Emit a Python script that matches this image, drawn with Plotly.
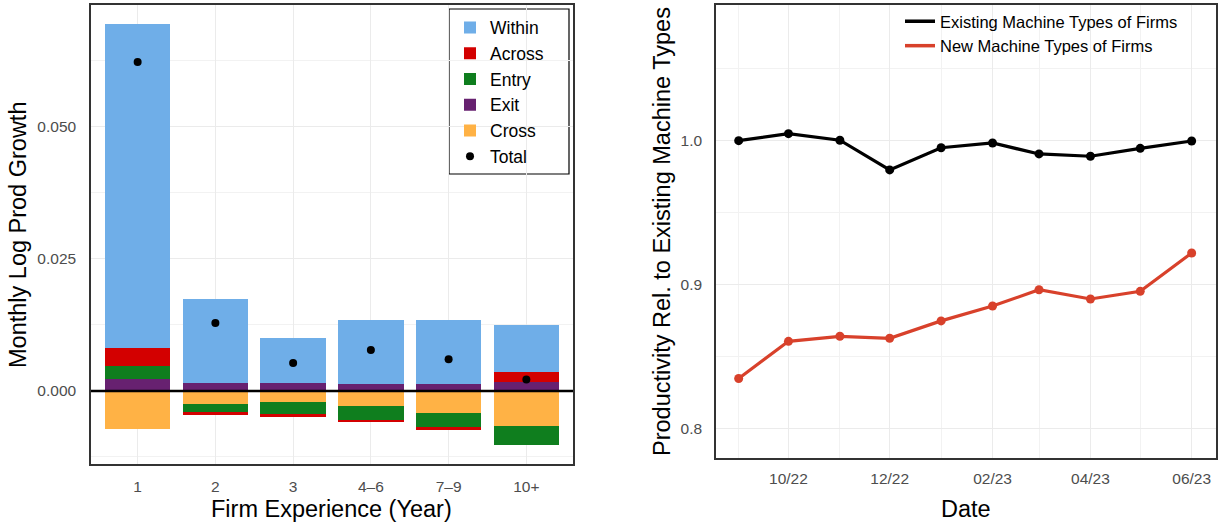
import plotly.graph_objects as go

# ---------------- Left panel data ----------------
experience = ["1", "2", "3", "4–6", "7–9", "10+"]
within = [0.0614, 0.01578, 0.00852, 0.01225, 0.01206, 0.0089]
across = [0.00335, -0.00063, -0.00063, -0.00032, -0.00063, 0.00184]
entry = [0.00252, -0.0016, -0.00214, -0.00265, -0.00271, -0.0036]
exit_ = [0.00222, 0.0016, 0.0016, 0.00127, 0.0014, 0.0017]
cross = [-0.00725, -0.0024, -0.00214, -0.0029, -0.0041, -0.00669]
total = [0.0623, 0.01288, 0.0053, 0.00776, 0.0060, 0.00216]
y1_tickvals = [0.0, 0.025, 0.05]
y1_ticktext = ["0.000", "0.025", "0.050"]

# ---------------- Right panel data ----------------
dates = ["2022-09-01", "2022-10-01", "2022-11-01", "2022-12-01", "2023-01-01",
         "2023-02-01", "2023-03-01", "2023-04-01", "2023-05-01", "2023-06-01"]
existing = [1.000, 1.0049, 1.0003, 0.9797, 0.9951, 0.9984, 0.9908, 0.9892, 0.9947, 0.9998]
new = [0.8349, 0.8607, 0.8642, 0.8628, 0.8749, 0.8852, 0.8965, 0.8901, 0.8954, 0.9220]
date_tickvals = ["2022-10-01", "2022-12-01", "2023-02-01", "2023-04-01", "2023-06-01"]
date_ticktext = ["10/22", "12/22", "02/23", "04/23", "06/23"]
date_minor = ["2022-09-01", "2022-11-01", "2023-01-01", "2023-03-01", "2023-05-01"]
y2_tickvals = [0.8, 0.9, 1.0]
y2_ticktext = ["0.8", "0.9", "1.0"]

FONT = "Liberation Sans, Arial, Helvetica, sans-serif"
GRID = "#EBEBEB"
MINOR = "#F2F2F2"
TICKC = "#4D4D4D"
TICKSIZE = 15.5
TITLESIZE = 23.5

fig = go.Figure()

components = [
    ("Cross", cross, "#FFB245", 5),
    ("Exit", exit_, "#672170", 4),
    ("Entry", entry, "#0F7E1E", 3),
    ("Across", across, "#D30000", 2),
    ("Within", within, "#6FAEE8", 1),
]
for name, vals, col, rank in components:
    fig.add_trace(go.Bar(
        x=experience, y=vals, name=name, marker=dict(color=col, line=dict(width=0)),
        width=0.84, legendrank=rank, legend="legend", xaxis="x", yaxis="y"))

fig.add_trace(go.Scatter(
    x=experience, y=total, mode="markers", name="Total",
    marker=dict(color="black", size=8), legendrank=6, legend="legend",
    xaxis="x", yaxis="y"))

series = [("Existing Machine Types of Firms", existing, "black"),
          ("New Machine Types of Firms", new, "#D8412B")]
for name, vals, col in series:
    fig.add_trace(go.Scatter(
        x=dates, y=vals, mode="lines+markers", name=name, showlegend=False,
        line=dict(color=col, width=3.2), marker=dict(color=col, size=9),
        xaxis="x2", yaxis="y2"))
    # legend-only entry (line key, as in the reference)
    fig.add_trace(go.Scatter(
        x=[None], y=[None], mode="lines", name=name,
        line=dict(color=col, width=3.5), xaxis="x2", yaxis="y2", legend="legend2"))

H = 527.0
W = 1225.0

axis_common = dict(
    showgrid=True, gridcolor=GRID, gridwidth=1,
    showline=True, mirror=True, linecolor="#333333", linewidth=1.5,
    ticks="outside", tickcolor="rgba(0,0,0,0)",
    tickfont=dict(size=TICKSIZE, color=TICKC, family=FONT), zeroline=False)

fig.update_layout(
    width=1225, height=527,
    margin=dict(l=0, r=0, t=0, b=0),
    paper_bgcolor="white", plot_bgcolor="white",
    barmode="relative", bargap=0,
    font=dict(family=FONT, color="black"),
    xaxis=dict(
        domain=[91 / W, 573 / W], range=[-0.6, 5.6], type="category",
        ticklen=8, anchor="y", **axis_common),
    yaxis=dict(
        domain=[1 - 464 / H, 1 - 5 / H], range=[-0.01383, 0.0731],
        tickvals=y1_tickvals, ticktext=y1_ticktext, ticklen=10,
        minor=dict(tickvals=[-0.0125, 0.0125, 0.0375, 0.0625], showgrid=True,
                   gridcolor=MINOR, gridwidth=1),
        anchor="x", **axis_common),
    xaxis2=dict(
        domain=[716 / W, 1216 / W], type="date",
        range=["2022-08-18 08:00", "2023-06-15 16:00"],
        tickvals=date_tickvals, ticktext=date_ticktext, ticklen=6,
        minor=dict(tickvals=date_minor, showgrid=True, gridcolor=MINOR, gridwidth=1),
        anchor="y2", **axis_common),
    yaxis2=dict(
        domain=[1 - 458 / H, 1 - 5 / H], range=[0.7797, 1.0942],
        tickvals=y2_tickvals, ticktext=y2_ticktext, ticklen=9,
        minor=dict(tickvals=[0.85, 0.95, 1.05], showgrid=True, gridcolor=MINOR, gridwidth=1),
        anchor="x2", **axis_common),
    legend=dict(
        x=450 / W, xanchor="left", y=1 - 9.5 / H, yanchor="top",
        bgcolor="rgba(0,0,0,0)", borderwidth=0,
        font=dict(size=17.5, family=FONT, color="black"),
        traceorder="normal", itemwidth=30),
    legend2=dict(
        x=900 / W, xanchor="left", y=1 - 4 / H, yanchor="top",
        bgcolor="rgba(0,0,0,0)", borderwidth=0,
        font=dict(size=16.5, family=FONT, color="black"),
        traceorder="normal", itemwidth=30),
    showlegend=True,
)

# Legend frame (left panel)
fig.add_shape(type="rect", xref="paper", yref="paper",
              x0=449 / W, x1=569 / W, y0=1 - 174 / H, y1=1 - 9 / H,
              line=dict(color="black", width=1.2), fillcolor="white", layer="below")

# Zero reference line on left panel
fig.add_shape(type="line", xref="x domain", yref="y", x0=0, x1=1, y0=0, y1=0,
              line=dict(color="black", width=2.3), layer="above")

# Axis titles
fig.add_annotation(text="Firm Experience (Year)", xref="paper", yref="paper",
                   x=332 / W, y=1 - 509 / H, showarrow=False,
                   xanchor="center", yanchor="middle",
                   font=dict(size=TITLESIZE, color="black", family=FONT))
fig.add_annotation(text="Monthly Log Prod Growth", xref="paper", yref="paper",
                   x=18 / W, y=1 - 235 / H, showarrow=False, textangle=-90,
                   xanchor="center", yanchor="middle",
                   font=dict(size=TITLESIZE, color="black", family=FONT))
fig.add_annotation(text="Date", xref="paper", yref="paper",
                   x=966 / W, y=1 - 509 / H, showarrow=False,
                   xanchor="center", yanchor="middle",
                   font=dict(size=TITLESIZE, color="black", family=FONT))
fig.add_annotation(text="Productivity Rel. to Existing Machine Types", xref="paper", yref="paper",
                   x=662 / W, y=1 - 232 / H, showarrow=False, textangle=-90,
                   xanchor="center", yanchor="middle",
                   font=dict(size=TITLESIZE, color="black", family=FONT))

fig.write_html("out.html", config={"displayModeBar": False},
               post_script="document.body.style.margin='0';document.body.style.padding='0';")
